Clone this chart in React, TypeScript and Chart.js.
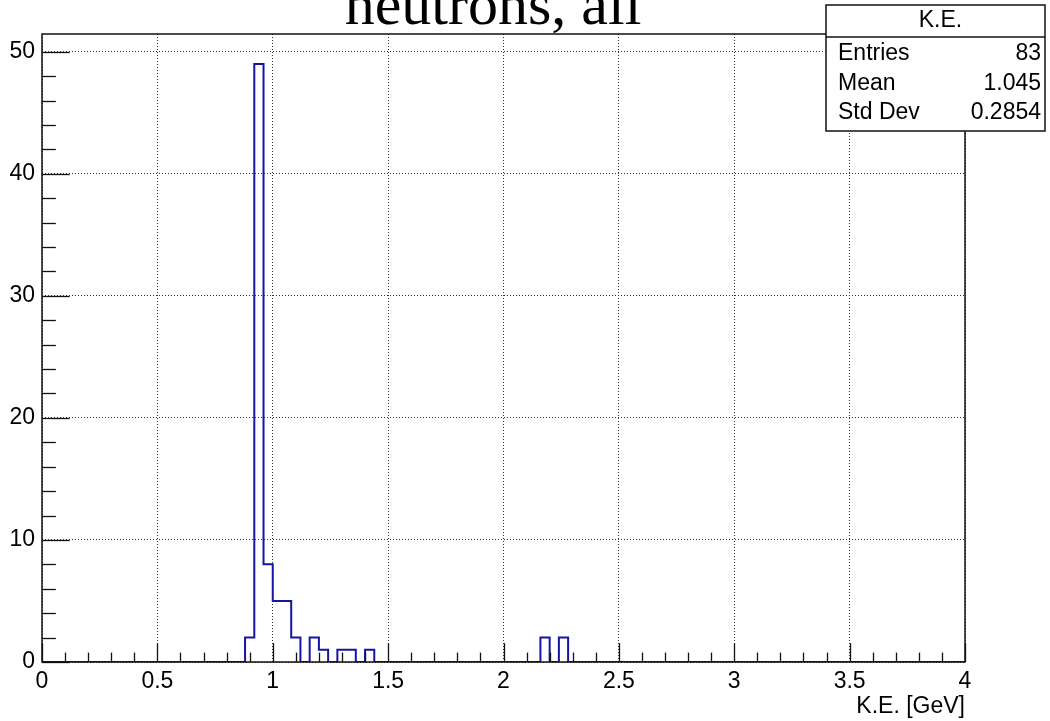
import React, { useEffect, useRef } from "react";
import { Chart, registerables } from "chart.js";

Chart.register(...registerables);

// ---- data ----
const chartTitle = "neutrons, all";
const xAxisTitle = "K.E. [GeV]";
const binWidth = 0.04;
const xMin = 0;
const xMax = 4;
const yMax = 51.45;
// lower edges of the non-empty bins and their contents
const binLowEdges = [0.88, 0.92, 0.96, 1.0, 1.04, 1.08, 1.16, 1.2, 1.28, 1.32, 1.4, 2.16, 2.24];
const binCounts = [2, 49, 8, 5, 5, 2, 2, 1, 1, 1, 1, 2, 2];
const xMajorTicks = [0, 0.5, 1, 1.5, 2, 2.5, 3, 3.5, 4];
const yMajorTicks = [0, 10, 20, 30, 40, 50];
const xMinorStep = 0.1;
const yMinorStep = 2;
const statsTitle = "K.E.";
const statNames = ["Entries", "Mean", "Std Dev"];
const statValues = ["83", "1.045", "0.2854"];

function buildOutline() {
  const pts: { x: number; y: number }[] = [{ x: xMin, y: 0 }];
  let prevEnd = xMin;
  for (let i = 0; i < binLowEdges.length; i++) {
    const lo = binLowEdges[i];
    if (Math.abs(lo - prevEnd) > 1e-9) pts.push({ x: prevEnd, y: 0 });
    pts.push({ x: lo, y: binCounts[i] });
    prevEnd = lo + binWidth;
  }
  pts.push({ x: prevEnd, y: 0 });
  pts.push({ x: xMax, y: 0 });
  return pts;
}

const SANS = "'Liberation Sans', Arial, Helvetica, sans-serif";

const rootPlugin = {
  id: "rootDecor",
  afterDatasetsDraw(chart: any) {
    const { ctx, chartArea, scales } = chart;
    const xs = scales.x;
    const ys = scales.y;
    const w = chartArea.right - chartArea.left;
    const h = chartArea.bottom - chartArea.top;
    ctx.save();
    ctx.strokeStyle = "#111";
    ctx.lineWidth = 1.3;
    // x ticks
    const nx = Math.round((xMax - xMin) / xMinorStep);
    for (let i = 0; i <= nx; i++) {
      const v = xMin + i * xMinorStep;
      const major = i % 5 === 0;
      const len = major ? h * 0.03 : h * 0.015;
      const px = Math.round(xs.getPixelForValue(v)) + 0.5;
      ctx.beginPath();
      ctx.moveTo(px, chartArea.bottom);
      ctx.lineTo(px, chartArea.bottom - len);
      ctx.stroke();
    }
    // y ticks
    const ny = Math.round(50 / yMinorStep);
    for (let i = 0; i <= ny; i++) {
      const v = i * yMinorStep;
      const major = i % 5 === 0;
      const len = major ? w * 0.03 : w * 0.015;
      const py = Math.round(ys.getPixelForValue(v)) + 0.5;
      ctx.beginPath();
      ctx.moveTo(chartArea.left, py);
      ctx.lineTo(chartArea.left + len, py);
      ctx.stroke();
    }
    // frame
    ctx.lineWidth = 1.5;
    ctx.strokeRect(chartArea.left, chartArea.top, w, h);
    ctx.restore();
  },
  afterDraw(chart: any) {
    const { ctx, chartArea } = chart;
    ctx.save();
    // title
    ctx.fillStyle = "#000";
    ctx.font = "60px 'Liberation Serif', 'Times New Roman', serif";
    ctx.textAlign = "center";
    ctx.textBaseline = "alphabetic";
    ctx.fillText(chartTitle, 493, 24);
    // x axis title
    ctx.font = `23px ${SANS}`;
    ctx.textAlign = "right";
    ctx.fillText(xAxisTitle, chartArea.right, 713);
    // stats box
    const bx = 826, by = 5, bw = 219, bh = 126, hdr = 32;
    ctx.fillStyle = "#fff";
    ctx.fillRect(bx, by, bw, bh);
    ctx.strokeStyle = "#111";
    ctx.lineWidth = 1.5;
    ctx.strokeRect(bx, by, bw, bh);
    ctx.beginPath();
    ctx.moveTo(bx, by + hdr);
    ctx.lineTo(bx + bw, by + hdr);
    ctx.stroke();
    ctx.fillStyle = "#000";
    ctx.font = `23px ${SANS}`;
    ctx.textAlign = "center";
    ctx.textBaseline = "middle";
    ctx.fillText(statsTitle, bx + bw / 2 + 5, by + 16);
    const rowCenters = [54, 84, 113];
    for (let i = 0; i < statNames.length; i++) {
      const cy = rowCenters[i];
      ctx.textAlign = "left";
      ctx.fillText(statNames[i], bx + 12, cy);
      ctx.textAlign = "right";
      ctx.fillText(statValues[i], bx + bw - 4, cy);
    }
    ctx.restore();
  },
};

export default function App() {
  const ref = useRef<HTMLCanvasElement | null>(null);
  useEffect(() => {
    if (!ref.current) return;
    const chart = new Chart(ref.current, {
      type: "line",
      data: {
        datasets: [
          {
            data: buildOutline(),
            stepped: "before",
            borderColor: "#1515a5",
            borderWidth: 2,
            pointRadius: 0,
            fill: false,
          },
        ],
      },
      options: {
        animation: false,
        responsive: true,
        maintainAspectRatio: false,
        layout: { padding: { top: 34, right: 85, left: 0, bottom: 0 } },
        plugins: { legend: { display: false }, tooltip: { enabled: false }, title: { display: false } },
        scales: {
          x: {
            type: "linear",
            min: xMin,
            max: xMax,
            afterBuildTicks: (s: any) => {
              s.ticks = xMajorTicks.map((v) => ({ value: v }));
            },
            afterFit: (s: any) => {
              s.height = 59;
            },
            grid: {
              drawTicks: false,
              color: "#333",
              lineWidth: 1,
            },
            border: { display: false, dash: [1, 2] },
            ticks: {
              color: "#000",
              font: { family: SANS, size: 23 },
              padding: 6,
              maxRotation: 0,
              autoSkip: false,
              callback: (v: any) => String(v),
            },
          },
          y: {
            type: "linear",
            min: 0,
            max: yMax,
            afterBuildTicks: (s: any) => {
              s.ticks = yMajorTicks.map((v) => ({ value: v }));
            },
            afterFit: (s: any) => {
              s.width = 42;
            },
            grid: {
              drawTicks: false,
              color: "#333",
              lineWidth: 1,
            },
            border: { display: false, dash: [1, 2] },
            ticks: {
              color: "#000",
              font: { family: SANS, size: 23 },
              padding: 7,
              autoSkip: false,
              callback: (v: any) => String(v),
            },
          },
        },
      },
      plugins: [rootPlugin],
    } as any);
    return () => chart.destroy();
  }, []);
  return (
    <div style={{ position: "absolute", left: 0, top: 0, width: 1050, height: 721, background: "#fff" }}>
      <canvas ref={ref} />
    </div>
  );
}
